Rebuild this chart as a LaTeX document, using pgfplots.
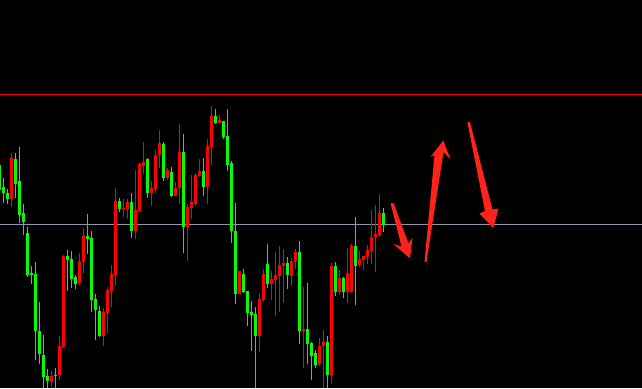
\documentclass[border=0pt]{standalone}
\usepackage{pgfplots}
\usepackage{pgfplotstable}
\pgfplotsset{compat=1.18}
\definecolor{cred}{RGB}{255,0,0}
\definecolor{cgreen}{RGB}{0,255,0}
\definecolor{arrowred}{RGB}{255,35,25}
\definecolor{hgrey}{RGB}{140,152,172}
\definecolor{hred}{RGB}{230,0,0}
% columns: x, wick top (h), wick bottom (l), body top (bt), body bottom (bb) in screen units
\pgfplotstableread{
x h l bt bb
-0.5 163 192 165 190
3.5 178 203 187 193
7.5 189 204 193 199
15.5 153 198 159 184
19.5 147 223 181 215
23.5 204 235 213 222
27.5 227 277 233 275
31.5 266 284 273 275
35.5 262 360 274 331
39.5 302 364 331 354
43.5 335 388 355 377
47.5 369 388 376 381
55.5 368 388 375 376
67.5 250 291 256 260
71.5 251 288 259 279
75.5 275 289 277 284
87.5 214 254 236 239
91.5 231 312 238 300
95.5 294 340 299 310
99.5 306 337 311 336
119.5 198 212 201 209
131.5 193 238 202 231
147.5 158 198 159 193
163.5 142 181 144 178
171.5 167 197 172 196
183.5 134 253 152 227
203.5 158 196 171 187
215.5 109 124 116 123
223.5 121 139 121 137
227.5 109 171 136 165
231.5 161 243 163 231
235.5 203 304 231 294
243.5 269 293 274 292
247.5 291 326 291 313
251.5 301 351 312 315
255.5 307 388 314 336
267.5 244 288 264 284
287.5 257 289 263 275
299.5 241 344 252 331
307.5 283 364 329 344
311.5 342 380 343 356
315.5 350 368 353 365
327.5 336 388 342 375
335.5 262 296 266 292
343.5 277 298 278 292
355.5 217 305 246 266
383.5 208 232 213 225
}\greentab
\pgfplotstableread{
x h l bt bb
11.5 153 207 158 199
51.5 371 387 376 382
59.5 336 380 346 375
63.5 255 348 256 347
79.5 253 285 261 283
83.5 228 273 236 262
103.5 308 346 312 336
107.5 287 333 290 313
111.5 265 307 274 291
115.5 188 286 201 275
123.5 199 217 208 209
127.5 199 219 202 209
135.5 170 239 210 231
139.5 163 212 164 211
143.5 142 174 162 166
151.5 181 206 188 193
155.5 150 193 155 189
159.5 130 168 143 155
167.5 168 180 170 178
175.5 182 196 188 196
179.5 124 204 152 188
187.5 204 261 207 227
191.5 175 219 202 208
195.5 173 206 175 204
199.5 159 177 171 176
207.5 139 204 146 187
211.5 106 165 116 147
219.5 115 123 120 123
239.5 271 294 271 294
259.5 293 352 299 336
263.5 269 302 274 300
271.5 271 300 279 284
275.5 252 316 275 280
279.5 246 312 265 276
283.5 249 303 263 266
291.5 258 286 261 276
295.5 249 269 252 262
303.5 287 368 329 331
319.5 338 366 346 364
323.5 330 388 342 346
331.5 263 384 266 375
339.5 270 295 278 292
347.5 248 303 273 292
351.5 244 293 246 292
359.5 251 267 259 265
363.5 256 270 256 260
367.5 245 264 250 257
371.5 210 264 237 251
375.5 205 272 234 237
379.5 194 237 213 235
}\redtab
\begin{document}
\begin{tikzpicture}
\fill[black] (0,0) rectangle (642pt,388pt);
\begin{axis}[at={(0,0)}, anchor=south west,
  width=642pt, height=388pt, scale only axis,
  xmin=0, xmax=642, ymin=0, ymax=388, y dir=reverse,
  hide axis, clip=true]
% horizontal levels
\addplot[hred, line width=1pt] coordinates {(0,94) (642,94)};
\addplot[hgrey, line width=1pt] coordinates {(0,224) (642,224)};
% green candles: wicks then bodies
\addplot[draw=none, mark=none, error bars/.cd, y dir=plus, y explicit, error mark=none,
  error bar style={draw=cgreen, solid, line width=1pt}]
  table[x=x, y=h, y error expr={\thisrow{l}-\thisrow{h}}] {\greentab};
\addplot[draw=none, mark=none, error bars/.cd, y dir=plus, y explicit, error mark=none,
  error bar style={draw=cgreen, solid, line width=3pt}]
  table[x=x, y=bt, y error expr={max(\thisrow{bb}-\thisrow{bt},1)}] {\greentab};
% red candles
\addplot[draw=none, mark=none, error bars/.cd, y dir=plus, y explicit, error mark=none,
  error bar style={draw=cred, solid, line width=1pt}]
  table[x=x, y=h, y error expr={\thisrow{l}-\thisrow{h}}] {\redtab};
\addplot[draw=none, mark=none, error bars/.cd, y dir=plus, y explicit, error mark=none,
  error bar style={draw=cred, solid, line width=3pt}]
  table[x=x, y=bt, y error expr={max(\thisrow{bb}-\thisrow{bt},1)}] {\redtab};
% drawn arrows
\addplot[fill=arrowred, draw=none] coordinates {(390.5,203) (401.5,246.5) (393.5,244) (410,258.5) (412.5,237.5) (408.5,243.5) (393.5,203) (390.5,203)};
\addplot[fill=arrowred, draw=none] coordinates {(424.5,262) (434.5,155) (430.5,157) (443.3,140.5) (450.5,159.5) (443.5,152) (426.5,262) (424.5,262)};
\addplot[fill=arrowred, draw=none] coordinates {(467.3,122) (485,211) (479.5,213.5) (493.3,228) (498.5,208.5) (492.5,209.5) (470,122) (467.3,122)};
\end{axis}
\end{tikzpicture}
\end{document}
